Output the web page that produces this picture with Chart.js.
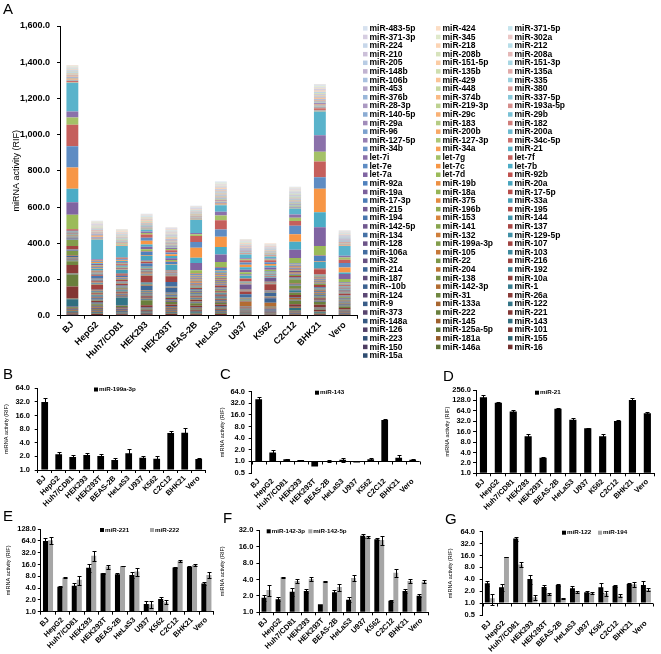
<!DOCTYPE html>
<html>
<head>
<meta charset="utf-8">
<script src="https://cdn.jsdelivr.net/npm/chart.js@4.4.1/dist/chart.umd.min.js"></script>
<style>
  body { margin: 0; background: #fff; width: 661px; height: 654px; position: relative; overflow: hidden;
         font-family: "Liberation Sans", Arial, sans-serif; }
  canvas { position: absolute; }
  .tag { position: absolute; font-size: 15px; line-height: 15px; color: #000; z-index: 5; }
</style>
</head>
<body>
<canvas id="chartA" width="661" height="365" style="left:0;top:0"></canvas>
<canvas id="chartB" width="220" height="150" style="left:0;top:360px"></canvas>
<canvas id="chartC" width="220" height="150" style="left:220px;top:360px"></canvas>
<canvas id="chartD" width="221" height="150" style="left:440px;top:360px"></canvas>
<canvas id="chartE" width="220" height="149" style="left:0;top:505px"></canvas>
<canvas id="chartF" width="220" height="149" style="left:220px;top:505px"></canvas>
<canvas id="chartG" width="221" height="149" style="left:440px;top:505px"></canvas>
<div class="tag" style="left:3px;top:1px">A</div>
<div class="tag" style="left:3px;top:366px">B</div>
<div class="tag" style="left:220px;top:366px">C</div>
<div class="tag" style="left:443px;top:368px">D</div>
<div class="tag" style="left:3px;top:508px">E</div>
<div class="tag" style="left:223px;top:510px">F</div>
<div class="tag" style="left:445px;top:511px">G</div>
<script>
const cellLines = ['BJ', 'HepG2', 'Huh7/CD81', 'HEK293', 'HEK293T', 'BEAS-2B', 'HeLaS3', 'U937', 'K562', 'C2C12', 'BHK21', 'Vero'];

// log2 axis ticks used by panels B-G
const log2Ticks = [0.5, 1, 2, 4, 8, 16, 32, 64, 128, 256];
const stackTicks = [0, 200, 400, 600, 800, 1000, 1200, 1400, 1600];

// single miRNA activity (RIF) and error, panels B-G
const mir199a3p = [32, 2.23, 1.94, 2.15, 2.04, 1.66, 2.34, 1.87, 1.78, 6.6, 6.7, 1.75];
const mir199a3pErr = [8, 0.25, 0.25, 0.2, 0.18, 0.15, 0.6, 0.12, 0.25, 0.6, 2.0, 0.12];
const mir143 = [40.6, 1.71, 1.13, 1.09, 0.74, 1.02, 1.1, 0.93, 1.13, 11.9, 1.25, 1.1];
const mir143Err = [7, 0.26, 0.05, 0.02, 0, 0.08, 0.15, 0, 0.07, 0.7, 0.18, 0.07];
const mir21 = [158, 110, 61, 11.8, 2.8, 73, 35.6, 20, 11.8, 32.6, 132, 54.6];
const mir21Err = [25, 4, 8, 1.6, 0.25, 3.5, 5, 0.5, 1.6, 1.4, 14, 3.5];
const mir221 = [63.7, 4.3, 4.6, 13.2, 9.5, 9.0, 8.6, 1.57, 2.1, 13.3, 13.8, 5.2];
const mir221Err = [10, 0.15, 0.8, 3, 0.3, 0.5, 1.5, 0.25, 0.27, 0.6, 0.4, 0.35];
const mir222 = [66, 7.37, 6.55, 26.8, 14.1, 14.6, 10.5, 1.55, 1.74, 19.7, 15.5, 8.6];
const mir222Err = [13, 0.2, 1.7, 7.5, 1.7, 0.4, 2.3, 0.3, 0.2, 1.5, 1.0, 1.5];
const mir1423p = [1.85, 1.73, 2.39, 2.46, 1.4, 2.33, 1.7, 25.5, 21.9, 1.63, 2.46, 2.02];
const mir1423pErr = [0.25, 0.15, 0.37, 0.2, 0, 0.24, 0.17, 1.9, 0.8, 0.08, 0.2, 0.12];
const mir1425p = [2.57, 4.39, 3.75, 4.08, 3.7, 2.91, 4.26, 24.4, 21.2, 5.33, 3.75, 3.65];
const mir1425pErr = [0.6, 0.15, 0.35, 0.3, 0.05, 0.4, 0.5, 1.0, 4.3, 0.8, 0.3, 0.2];
const mir122 = [3.18, 2.51, 42.9, 4.09, 2.56, 2.88, 2.37, 1.87, 2.51, 2.72, 3.05, 2.88];
const mir122Err = [0.42, 0.5, 5.4, 1.0, 0.34, 0.1, 0.3, 0.12, 0.73, 0.2, 0.15, 0.76];
const mir194 = [1.32, 14.6, 9.5, 1.4, 1.7, 1.32, 1.9, 1.8, 1.77, 1.53, 3.0, 2.18];
const mir194Err = [0.4, 0.3, 1.4, 0.21, 0.12, 0.05, 0.12, 0.12, 0.23, 0.14, 0.43, 0.18];

// panel A stack, bottom segment first (legend reads top-left = last series)
const stackSeries = [
    ['miR-15a', [5.5, 4.2, 3.6, 3.8, 4.2, 3.9, 4.5, 2.2, 2.4, 3.0, 3.9, 3.2]],
    ['miR-16', [6.8, 5.0, 4.1, 4.5, 5.0, 4.4, 5.1, 2.8, 2.7, 3.6, 4.4, 3.6]],
    ['miR-146a', [4.2, 3.1, 2.9, 3.0, 3.4, 3.5, 4.0, 2.1, 1.9, 2.6, 3.5, 2.8]],
    ['miR-150', [3.8, 3.6, 3.0, 3.2, 3.6, 3.3, 3.9, 2.3, 2.0, 2.7, 3.3, 2.6]],
    ['miR-155', [4.4, 3.9, 3.4, 3.6, 4.1, 3.6, 4.2, 2.6, 2.3, 2.9, 3.7, 2.9]],
    ['miR-181a', [5.0, 4.4, 3.8, 3.9, 4.6, 3.8, 4.4, 2.5, 2.6, 3.3, 4.0, 3.1]],
    ['miR-223', [4.6, 4.0, 3.5, 3.7, 4.2, 3.7, 4.3, 2.4, 2.2, 3.1, 3.8, 3.0]],
    ['miR-101', [5.8, 4.6, 3.9, 4.1, 4.7, 4.0, 4.6, 2.7, 2.5, 3.4, 4.2, 3.3]],
    ['miR-125a-5p', [6.2, 4.3, 3.7, 4.0, 4.4, 3.9, 4.5, 2.4, 2.4, 3.5, 4.1, 3.2]],
    ['miR-126', [4.0, 3.8, 3.3, 3.5, 3.9, 3.5, 4.1, 2.3, 2.1, 2.8, 3.6, 2.9]],
    ['miR-143', mir143],
    ['miR-145', [4.5, 3.5, 3.1, 3.3, 4.4, 3.6, 3.9, 2.2, 2.0, 4.5, 3.5, 2.8]],
    ['miR-148a', [2.4, 4.8, 3.9, 3.4, 4.6, 3.4, 4.0, 2.3, 2.1, 2.7, 3.4, 2.7]],
    ['miR-221', mir221],
    ['miR-222', mir222],
    ['miR-373', [1.6, 3.2, 2.8, 3.0, 4.0, 3.1, 3.6, 2.0, 1.8, 2.4, 3.1, 2.5]],
    ['miR-122', mir122],
    ['miR-133a', [1.8, 3.3, 2.9, 3.1, 4.1, 3.2, 3.7, 2.1, 1.9, 10.0, 3.2, 2.6]],
    ['miR-9', [1.5, 3.4, 3.0, 3.6, 4.3, 3.2, 3.8, 2.1, 1.9, 2.5, 3.3, 2.6]],
    ['miR-26a', [45.0, 6.0, 5.0, 8.0, 7.0, 6.0, 6.0, 4.0, 4.0, 14.0, 8.0, 5.0]],
    ['miR-31', [20.0, 3.2, 2.9, 3.3, 4.3, 3.3, 3.8, 2.0, 1.9, 12.0, 3.3, 2.6]],
    ['miR-124', [2.2, 3.5, 3.1, 3.4, 3.1, 3.4, 3.9, 2.2, 2.0, 2.6, 3.4, 2.7]],
    ['miR-1', [2.4, 3.3, 3.0, 3.2, 2.9, 3.3, 3.8, 2.1, 1.9, 12.0, 3.3, 2.6]],
    ['miR-142-3p', mir1423p],
    ['miR--10b', [2.6, 3.6, 3.2, 3.5, 3.2, 3.5, 4.0, 2.3, 25.0, 2.8, 3.5, 2.8]],
    ['miR-10a', [2.8, 3.8, 3.3, 3.6, 3.3, 3.6, 4.1, 2.4, 2.2, 2.9, 3.6, 2.9]],
    ['miR-138', [2.5, 3.4, 3.0, 3.3, 3.0, 3.4, 3.9, 2.1, 2.0, 15.0, 3.4, 2.7]],
    ['miR-187', [2.1, 3.2, 2.8, 3.1, 2.8, 3.2, 3.6, 2.0, 1.8, 2.5, 3.2, 2.5]],
    ['miR-192', [2.3, 6.5, 5.8, 3.2, 2.9, 3.3, 3.7, 2.1, 1.9, 2.6, 3.3, 2.6]],
    ['miR-204', [2.4, 3.3, 2.9, 3.2, 3.0, 3.3, 3.8, 2.1, 1.9, 2.6, 3.3, 2.6]],
    ['miR-214', [8.0, 3.6, 3.2, 25.0, 25.0, 3.5, 4.0, 2.3, 20.0, 4.0, 6.0, 2.8]],
    ['miR-216', [2.2, 3.2, 2.8, 3.1, 1.8, 3.2, 3.6, 2.0, 1.8, 2.5, 3.2, 2.5]],
    ['miR-22', [25.0, 5.0, 4.4, 4.8, 2.0, 4.6, 5.2, 2.8, 2.6, 22.0, 4.6, 3.6]],
    ['miR-32', [2.6, 3.4, 3.0, 3.3, 1.6, 3.4, 3.9, 2.1, 2.0, 2.7, 3.4, 2.7]],
    ['miR-103', [3.0, 4.5, 4.0, 3.6, 1.8, 3.7, 4.3, 2.4, 2.2, 3.0, 3.8, 3.0]],
    ['miR-105', [2.1, 3.2, 2.8, 3.1, 1.5, 3.2, 3.6, 2.0, 1.8, 2.5, 3.2, 2.5]],
    ['miR-106a', [2.8, 3.8, 3.3, 3.8, 25.0, 3.6, 4.2, 15.0, 3.0, 2.9, 3.8, 2.9]],
    ['miR-107', [18.0, 28.0, 10.0, 35.0, 32.0, 8.0, 10.0, 15.0, 34.0, 8.0, 12.0, 8.0]],
    ['miR-199a-3p', mir199a3p],
    ['miR-128', [2.3, 3.4, 3.0, 3.3, 1.4, 3.4, 3.9, 2.1, 2.0, 2.6, 3.4, 2.7]],
    ['miR-129-5p', [2.1, 3.2, 2.8, 3.1, 1.3, 3.2, 3.6, 2.0, 1.8, 2.5, 3.2, 2.5]],
    ['miR-132', [2.4, 3.4, 3.0, 3.3, 1.4, 3.4, 3.9, 2.1, 2.0, 2.7, 3.4, 2.7]],
    ['miR-134', [2.2, 3.3, 2.9, 3.2, 1.4, 3.3, 3.7, 2.0, 1.9, 2.6, 3.3, 2.6]],
    ['miR-137', [2.3, 3.3, 8.0, 3.2, 1.5, 3.3, 3.8, 2.1, 1.9, 2.6, 3.3, 2.6]],
    ['miR-141', [2.1, 3.6, 3.4, 3.1, 1.3, 3.2, 3.6, 2.0, 1.8, 2.5, 3.2, 2.5]],
    ['miR-142-5p', mir1425p],
    ['miR-144', [2.2, 3.3, 2.9, 3.2, 1.4, 3.3, 3.7, 2.0, 1.9, 2.6, 3.3, 2.6]],
    ['miR-153', [2.1, 3.2, 2.8, 3.1, 1.3, 3.2, 3.6, 2.0, 1.8, 2.5, 3.2, 2.5]],
    ['miR-194', mir194],
    ['miR-195', [3.0, 3.6, 8.0, 3.4, 1.5, 3.5, 4.0, 2.2, 2.1, 2.9, 3.6, 2.8]],
    ['miR-196b', [2.2, 3.3, 2.9, 3.2, 1.4, 3.3, 3.7, 2.0, 1.9, 2.6, 3.3, 2.6]],
    ['miR-215', [2.1, 4.0, 3.5, 3.1, 1.3, 3.2, 3.6, 2.0, 1.8, 2.5, 3.2, 2.5]],
    ['miR-33a', [2.3, 3.4, 18.0, 3.3, 1.4, 3.4, 3.8, 2.1, 2.0, 2.6, 3.4, 2.7]],
    ['miR-375', [2.0, 3.8, 3.3, 3.0, 1.3, 3.1, 3.5, 1.9, 1.8, 2.4, 3.1, 2.4]],
    ['miR-17-3p', [2.2, 3.3, 2.9, 18.0, 1.6, 3.3, 3.7, 2.0, 1.9, 2.6, 3.3, 2.6]],
    ['miR-17-5p', [3.0, 4.0, 3.6, 10.0, 3.0, 4.0, 4.6, 14.0, 4.0, 3.2, 27.0, 3.2]],
    ['miR-18a', [2.2, 3.4, 3.0, 3.3, 1.8, 3.4, 3.8, 2.1, 2.0, 2.6, 3.4, 2.7]],
    ['miR-19a', [2.3, 3.5, 3.1, 3.4, 2.0, 3.5, 4.0, 2.2, 2.1, 2.7, 3.5, 2.8]],
    ['miR-20a', [3.0, 8.0, 4.0, 27.0, 30.0, 4.5, 6.0, 14.0, 5.0, 4.0, 33.0, 3.5]],
    ['miR-19b', [2.4, 3.6, 3.2, 3.5, 3.0, 3.6, 4.1, 2.3, 2.1, 2.8, 3.6, 2.9]],
    ['miR-92a', [3.5, 4.6, 4.0, 18.0, 12.0, 4.5, 15.0, 3.0, 3.0, 3.8, 31.0, 3.6]],
    ['miR-92b', [8.0, 3.5, 3.1, 3.4, 3.0, 3.5, 4.0, 2.2, 2.1, 2.7, 3.5, 2.8]],
    ['let-7d', [80, 6, 5, 10, 8, 18, 28, 10, 8, 28, 51, 17]],
    ['let-7a', [70, 8, 7, 14, 10, 41, 42, 14, 12, 46, 104, 27]],
    ['let-7b', [74, 5, 6, 12, 12, 29, 41, 14, 10, 44, 83, 9]],
    ['let-7c', [117, 6, 5, 22, 10, 55, 57, 14, 10, 42, 129, 27]],
    ['let-7e', [117, 4, 5, 16, 10, 32, 40, 12, 10, 46, 64, 25]],
    ['let-7f', [120, 5, 6, 18, 12, 33, 51, 12, 10, 27, 86, 18]],
    ['let-7g', [40, 3, 3, 8, 6, 9, 26, 6, 5, 18, 55, 12]],
    ['let-7i', [33, 3, 3, 8, 6, 8, 21, 6, 5, 18, 90, 10]],
    ['miR-21', mir21],
    ['miR-34a', [3.0, 2.0, 2.5, 2.2, 3.1, 2.0, 4.1, 1.8, 1.5, 3.3, 4.0, 2.4]],
    ['miR-34b', [1.5, 1.8, 1.6, 1.4, 2.0, 1.3, 2.6, 1.5, 1.2, 2.0, 2.6, 1.5]],
    ['miR-34c-5p', [5.2, 2.6, 2.4, 2.1, 2.9, 1.9, 3.6, 2.2, 1.8, 3.1, 11.5, 2.3]],
    ['miR-127-3p', [2.0, 2.2, 2.0, 1.9, 2.4, 1.6, 2.8, 1.9, 1.6, 2.6, 3.0, 1.8]],
    ['miR-127-5p', [1.8, 2.1, 1.9, 1.7, 2.3, 1.5, 2.7, 1.8, 1.5, 2.4, 2.9, 1.7]],
    ['miR-200a', [2.4, 3.2, 2.9, 2.0, 2.7, 1.9, 3.3, 1.9, 1.6, 2.7, 3.5, 2.2]],
    ['miR-200b', [2.3, 3.4, 3.1, 2.1, 2.8, 2.0, 3.2, 2.0, 1.7, 2.9, 3.6, 2.3]],
    ['miR-96', [1.9, 2.4, 2.3, 2.2, 2.9, 1.7, 3.1, 2.3, 1.9, 2.8, 3.2, 1.9]],
    ['miR-182', [2.6, 2.7, 2.4, 2.4, 3.0, 2.0, 3.6, 2.4, 2.0, 3.0, 3.8, 2.1]],
    ['miR-183', [2.2, 2.5, 2.2, 2.1, 2.7, 1.8, 3.2, 2.0, 1.8, 2.9, 3.4, 2.0]],
    ['miR-29a', [4.0, 2.6, 2.3, 2.3, 2.8, 2.4, 3.4, 2.1, 1.7, 3.6, 4.6, 2.6]],
    ['miR-29b', [3.2, 2.3, 2.1, 2.0, 2.5, 2.0, 3.0, 1.9, 1.6, 3.2, 4.0, 2.3]],
    ['miR-29c', [2.8, 2.2, 2.0, 1.9, 2.4, 1.9, 2.9, 1.8, 1.5, 3.0, 3.7, 2.2]],
    ['miR-140-5p', [2.5, 2.1, 1.9, 1.8, 2.3, 1.7, 2.7, 1.7, 1.5, 3.1, 3.3, 2.0]],
    ['miR-193a-5p', [2.4, 2.6, 2.4, 2.2, 2.8, 2.0, 3.3, 2.2, 1.8, 2.9, 3.5, 2.1]],
    ['miR-219-3p', [1.7, 2.0, 1.9, 1.8, 2.3, 1.5, 2.6, 1.8, 1.5, 2.4, 2.8, 1.7]],
    ['miR-28-3p', [2.1, 2.3, 2.1, 2.0, 2.5, 1.7, 2.9, 1.9, 1.6, 2.7, 3.2, 1.9]],
    ['miR-337-5p', [1.6, 1.9, 1.8, 1.7, 2.2, 1.4, 2.5, 1.7, 1.4, 2.3, 2.7, 1.6]],
    ['miR-374b', [2.0, 2.4, 2.2, 2.1, 2.6, 1.8, 3.0, 2.1, 1.8, 2.8, 3.3, 2.0]],
    ['miR-376b', [1.7, 2.0, 1.9, 1.8, 2.3, 1.5, 2.6, 1.8, 1.5, 2.4, 2.8, 1.7]],
    ['miR-380', [1.8, 2.1, 2.0, 1.9, 2.4, 1.6, 2.8, 1.9, 1.6, 2.5, 3.0, 1.8]],
    ['miR-448', [1.6, 1.9, 1.8, 1.7, 2.2, 1.5, 2.6, 1.7, 1.4, 2.3, 2.7, 1.6]],
    ['miR-453', [1.9, 2.2, 2.0, 1.9, 2.4, 1.6, 2.8, 1.9, 1.6, 2.6, 3.0, 1.8]],
    ['miR-335', [2.3, 2.3, 2.1, 2.0, 2.5, 1.8, 2.9, 1.9, 1.6, 2.8, 3.2, 1.9]],
    ['miR-429', [2.0, 2.6, 2.4, 1.9, 2.5, 1.7, 2.9, 1.8, 1.6, 2.6, 3.1, 1.9]],
    ['miR-106b', [2.4, 2.8, 2.6, 2.3, 2.9, 2.0, 3.4, 2.4, 2.0, 3.1, 3.7, 2.2]],
    ['miR-135a', [1.8, 2.1, 1.9, 1.8, 2.3, 1.5, 2.7, 1.8, 1.5, 2.4, 2.9, 1.7]],
    ['miR-135b', [1.9, 2.2, 2.0, 1.9, 2.4, 1.6, 2.8, 1.9, 1.6, 2.5, 3.0, 1.8]],
    ['miR-148b', [2.2, 2.5, 2.3, 2.1, 2.7, 1.9, 3.1, 2.1, 1.8, 2.9, 3.5, 2.1]],
    ['miR-151-3p', [2.3, 2.5, 2.3, 2.1, 2.7, 1.9, 3.1, 2.1, 1.8, 2.9, 3.4, 2.1]],
    ['miR-151-5p', [2.4, 2.6, 2.4, 2.2, 2.8, 2.0, 3.2, 2.2, 1.9, 3.0, 3.6, 2.2]],
    ['miR-205', [2.0, 2.2, 2.0, 1.8, 2.6, 1.6, 2.9, 1.8, 1.5, 2.5, 3.0, 1.8]],
    ['miR-208a', [1.7, 2.0, 1.9, 1.8, 2.3, 1.5, 2.6, 1.8, 1.5, 2.4, 2.8, 1.7]],
    ['miR-208b', [1.8, 2.1, 2.0, 1.9, 2.4, 1.6, 2.7, 1.9, 1.6, 2.5, 2.9, 1.8]],
    ['miR-210', [2.4, 2.6, 2.4, 2.2, 2.9, 2.0, 3.3, 2.2, 1.9, 3.0, 3.6, 2.2]],
    ['miR-212', [2.0, 2.3, 2.1, 2.0, 2.5, 1.7, 2.9, 2.0, 1.7, 2.6, 3.1, 1.9]],
    ['miR-218', [2.2, 2.3, 2.1, 2.0, 2.6, 1.8, 2.9, 2.0, 1.7, 2.7, 3.2, 2.0]],
    ['miR-224', [2.1, 2.5, 2.3, 2.0, 2.6, 1.8, 3.0, 2.0, 1.7, 2.7, 3.3, 2.0]],
    ['miR-302a', [1.9, 2.2, 2.0, 1.9, 2.4, 1.6, 2.8, 1.9, 1.6, 2.5, 3.0, 1.8]],
    ['miR-345', [2.2, 2.4, 2.2, 2.0, 2.6, 1.8, 3.0, 2.0, 1.7, 2.8, 3.4, 2.0]],
    ['miR-371-3p', [1.8, 2.1, 1.9, 1.8, 2.3, 1.5, 2.7, 1.8, 1.5, 2.4, 2.9, 1.7]],
    ['miR-371-5p', [1.9, 2.2, 2.0, 1.9, 2.4, 1.6, 2.8, 1.9, 1.6, 2.5, 3.0, 1.8]],
    ['miR-424', [2.5, 2.4, 2.2, 2.1, 2.7, 1.9, 3.1, 2.1, 1.8, 2.9, 3.4, 2.1]],
    ['miR-483-5p', [2.2, 2.3, 2.1, 2.0, 2.5, 1.8, 2.9, 2.0, 1.7, 2.7, 3.2, 1.9]]
];

const FONT = '"Liberation Sans", Arial, sans-serif';
Chart.defaults.font.family = FONT;
Chart.defaults.color = '#000';

// Office palette: 6 accents, darker shades low in the stack, lighter on top
const accents = [[79, 129, 189], [192, 80, 77], [155, 187, 89], [128, 100, 162], [75, 172, 198], [247, 150, 70]];
function seriesColor(i) {
    const base = accents[i % 6];
    const shade = Math.floor(i / 6);
    let rgb;
    if (shade < 10) {
        const f = 1 - (10 - shade) * 0.04;
        rgb = base.map(c => c * f);
    } else {
        const f = (shade - 10) * 0.085;
        rgb = base.map(c => c + (255 - c) * f);
    }
    return 'rgb(' + rgb.map(Math.round).join(',') + ')';
}

// 3-column legend of panel A, drawn row by row from the last series
const stackLegend = {
    id: 'stackLegend',
    afterDraw(chart) {
        const ctx = chart.ctx;
        const sets = chart.data.datasets;
        const cols = [363, 436, 508];
        ctx.save();
        ctx.font = 'bold 8.5px ' + FONT;
        ctx.textBaseline = 'middle';
        for (let k = 0; k < sets.length; k++) {
            const ds = sets[sets.length - 1 - k];
            const x = cols[k % 3];
            const y = 28.6 + Math.floor(k / 3) * 8.61;
            ctx.fillStyle = ds.backgroundColor;
            ctx.fillRect(x, y - 2.5, 4.5, 4.5);
            ctx.fillStyle = '#000';
            ctx.fillText(ds.label, x + 6.5, y);
        }
        ctx.restore();
    }
};

const errorBars = {
    id: 'errorBars',
    afterDatasetsDraw(chart) {
        const ctx = chart.ctx;
        const y = chart.scales.y;
        ctx.save();
        ctx.strokeStyle = '#000';
        ctx.lineWidth = 1;
        chart.data.datasets.forEach((ds, di) => {
            chart.getDatasetMeta(di).data.forEach((bar, i) => {
                const e = ds.errors[i];
                if (!e) return;
                const v = ds.data[i];
                const top = Math.round(y.getPixelForValue(v + e)) + 0.5;
                const bot = Math.round(y.getPixelForValue(Math.max(v - e, y.min))) + 0.5;
                const x = Math.round(bar.x) + 0.5;
                ctx.beginPath();
                ctx.moveTo(x, top); ctx.lineTo(x, bot);
                ctx.moveTo(x - 2, top); ctx.lineTo(x + 2, top);
                ctx.moveTo(x - 2, bot); ctx.lineTo(x + 2, bot);
                ctx.stroke();
            });
        });
        ctx.restore();
    }
};

const seriesLegend = {
    id: 'seriesLegend',
    afterDraw(chart, args, opts) {
        if (!opts.at) return;
        const ctx = chart.ctx;
        ctx.save();
        ctx.font = 'bold 6.2px ' + FONT;
        ctx.textBaseline = 'middle';
        chart.data.datasets.forEach((ds, i) => {
            const [x, y] = opts.at[i];
            ctx.fillStyle = ds.backgroundColor;
            ctx.fillRect(x, y - 2, 4, 4);
            ctx.fillStyle = '#000';
            ctx.fillText(ds.label, x + 5, y);
        });
        ctx.restore();
    }
};

// horizontal axis crossing the log axis at 1.0 (panels C and G)
const crossLine = {
    id: 'crossLine',
    afterDatasetsDraw(chart, args, opts) {
        if (!opts.at) return;
        const {ctx, chartArea: a, scales: {x, y}} = chart;
        const py = Math.round(y.getPixelForValue(opts.at)) + 0.5;
        const n = x.ticks.length;
        ctx.save();
        ctx.strokeStyle = '#000';
        ctx.lineWidth = 1;
        ctx.beginPath();
        ctx.moveTo(a.left, py); ctx.lineTo(a.right, py);
        for (let i = 0; i <= n; i++) {
            const px = Math.round(x.getPixelForDecimal(i / n)) + 0.5;
            ctx.moveTo(px, py); ctx.lineTo(px, py + 3);
        }
        ctx.stroke();
        ctx.restore();
    }
};

const axisGrid = {display: true, drawOnChartArea: false, drawTicks: true, tickLength: 3, color: '#000'};

new Chart(document.getElementById('chartA'), {
    type: 'bar',
    data: {
        labels: cellLines,
        datasets: stackSeries.map(([name, values], i) => ({
            label: name,
            data: values,
            backgroundColor: seriesColor(i),
            borderWidth: 0,
            barPercentage: 0.48,
            categoryPercentage: 1
        }))
    },
    options: {
        animation: false,
        responsive: false,
        events: [],
        layout: {padding: {top: 26, right: 304, left: 0, bottom: 0}},
        plugins: {legend: {display: false}, tooltip: {enabled: false}},
        scales: {
            x: {
                stacked: true,
                grid: axisGrid,
                border: {color: '#000'},
                ticks: {font: {size: 9, weight: 'bold'}, minRotation: 45, maxRotation: 45, padding: 1, autoSkip: false},
                afterFit: s => { s.height = 49.3; }
            },
            y: {
                stacked: true,
                min: 0,
                max: 1600,
                afterBuildTicks: s => { s.ticks = stackTicks.map(v => ({value: v})); },
                grid: axisGrid,
                border: {color: '#000'},
                ticks: {
                    font: {size: 9, weight: 'bold'},
                    padding: 7,
                    callback: v => v.toLocaleString('en-US', {minimumFractionDigits: 1, maximumFractionDigits: 1})
                },
                title: {display: true, text: 'miRNA activity (RIF)', font: {size: 9}, padding: {top: 11.6, bottom: 0}},
                afterFit: s => { s.width = 60; }
            }
        }
    },
    plugins: [stackLegend]
});

function logPanel(id, cfg) {
    const pair = cfg.series.length > 1;
    new Chart(document.getElementById(id), {
        type: 'bar',
        data: {
            labels: cellLines,
            datasets: cfg.series.map(s => ({
                label: s.label,
                data: s.data,
                errors: s.err,
                backgroundColor: s.color,
                base: 1,
                borderWidth: 0,
                categoryPercentage: pair ? 0.7 : 1,
                barPercentage: pair ? 1 : 0.48
            }))
        },
        options: {
            animation: false,
            responsive: false,
            events: [],
            layout: {padding: {top: cfg.top, right: cfg.right, left: 0, bottom: 0}},
            plugins: {
                legend: {display: false},
                tooltip: {enabled: false},
                seriesLegend: {at: cfg.legendAt},
                crossLine: {at: cfg.crossAt}
            },
            scales: {
                x: {
                    grid: Object.assign({}, axisGrid, {display: !cfg.crossAt}),
                    border: {display: !cfg.crossAt, color: '#000'},
                    ticks: {font: {size: 7.5, weight: 'bold'}, minRotation: 45, maxRotation: 45, padding: 1, autoSkip: false},
                    afterFit: s => { s.height = cfg.bottom; }
                },
                y: {
                    type: 'logarithmic',
                    min: cfg.min,
                    max: cfg.max,
                    afterBuildTicks: s => { s.ticks = log2Ticks.filter(v => v >= cfg.min && v <= cfg.max).map(v => ({value: v})); },
                    grid: axisGrid,
                    border: {color: '#000'},
                    ticks: {font: {size: 7.5, weight: 'bold'}, padding: cfg.tickPad, autoSkip: false, callback: v => Number(v).toFixed(1)},
                    title: {display: true, text: 'miRNA activity (RIF)', font: {size: 5.5}, padding: {top: cfg.titlePad, bottom: 0}},
                    afterFit: s => { s.width = cfg.left; }
                }
            }
        },
        plugins: [errorBars, seriesLegend, crossLine]
    });
}

const BLACK = '#000000';
const GREY = '#A6A6A6';

logPanel('chartB', {
    series: [{label: 'miR-199a-3p', data: mir199a3p, err: mir199a3pErr, color: BLACK}],
    min: 1, max: 64, left: 37.7, top: 28.3, right: 14.3, bottom: 40, tickPad: 4.7, titlePad: 2.7,
    legendAt: [[94, 29.5]]
});
logPanel('chartC', {
    series: [{label: 'miR-143', data: mir143, err: mir143Err, color: BLACK}],
    min: 0.5, max: 64, left: 31.7, top: 31.7, right: 20.3, bottom: 37, tickPad: 3.7, titlePad: -0.8,
    legendAt: [[95, 32.7]], crossAt: 1
});
logPanel('chartD', {
    series: [{label: 'miR-21', data: mir21, err: mir21Err, color: BLACK}],
    min: 1, max: 256, left: 36, top: 30, right: 6.2, bottom: 36.7, tickPad: 2, titlePad: 4.2,
    legendAt: [[95, 32.7]]
});
logPanel('chartE', {
    series: [
        {label: 'miR-221', data: mir221, err: mir221Err, color: BLACK},
        {label: 'miR-222', data: mir222, err: mir222Err, color: GREY}
    ],
    min: 1, max: 128, left: 40.8, top: 24, right: 6.4, bottom: 42.3, tickPad: 1.8, titlePad: 4.7,
    legendAt: [[100, 25], [150, 25]]
});
logPanel('chartF', {
    series: [
        {label: 'miR-142-3p', data: mir1423p, err: mir1423pErr, color: BLACK},
        {label: 'miR-142-5p', data: mir1425p, err: mir1425pErr, color: GREY}
    ],
    min: 1, max: 32, left: 39.4, top: 25.3, right: 11.4, bottom: 41.7, tickPad: 3.1, titlePad: -0.8,
    legendAt: [[46.7, 26.3], [88.3, 26.3]]
});
logPanel('chartG', {
    series: [
        {label: 'miR-122', data: mir122, err: mir122Err, color: BLACK},
        {label: 'miR-194', data: mir194, err: mir194Err, color: GREY}
    ],
    min: 0.5, max: 64, left: 42.7, top: 26.7, right: 8, bottom: 39, tickPad: 4.7, titlePad: 6.7,
    legendAt: [[122, 27.7], [158, 27.7]], crossAt: 1
});
</script>
</body>
</html>
